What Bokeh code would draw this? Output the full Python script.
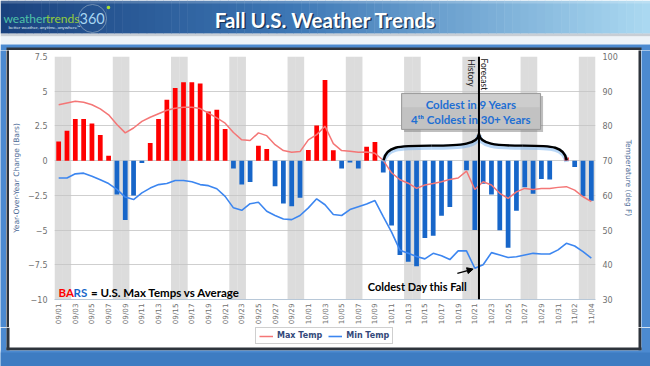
import numpy as np
import pandas as pd
from bokeh.plotting import figure
from bokeh.models import (Range1d, LinearAxis, FixedTicker, Span, Arrow, NormalHead,
                          Legend, LegendItem, ColumnDataSource)
from bokeh.layouts import column, row
from bokeh.core.properties import value
from bokeh.embed import file_html
from bokeh.resources import INLINE

# ---------------- data ----------------
day_index = pd.date_range("2018-09-01", "2018-11-04", freq="D")
dates = [d.strftime("%m/%d") for d in day_index]

yoy_change = [1.38, 2.15, 3.00, 3.00, 2.68, 1.84, 0.36, -2.44, -4.28, -2.51,
              -0.17, 1.27, 3.00, 4.38, 5.24, 5.64, 5.64, 5.55, 3.54, 3.66,
              2.27, -0.57, -1.72, -1.53, 1.07, 0.84, -1.84, -3.09, -3.28, -2.68,
              0.76, 2.53, 5.81, 0.74, -0.57, -0.13, -0.57, 1.00, 1.35, -0.86,
              -4.67, -6.80, -7.28, -7.60, -5.57, -5.40, -3.97, -3.33, 0.00, -0.70,
              -5.00, -1.67, -2.44, -5.02, -6.27, -3.60, -1.91, -2.39, -1.32, -1.36,
              0.00, 0.22, -0.46, -2.57, -2.88]

max_temp = [86.1, 86.6, 87.1, 86.8, 86.1, 84.9, 83.2, 80.4, 78.0, 79.4,
            81.3, 82.5, 83.5, 84.5, 85.1, 85.4, 85.4, 85.0, 83.7, 82.3,
            80.8, 78.1, 76.0, 75.8, 78.0, 77.2, 74.6, 72.9, 72.4, 72.6,
            76.0, 77.5, 79.9, 74.9, 72.9, 72.7, 72.4, 72.5, 72.1, 70.1,
            66.5, 64.5, 63.5, 62.0, 63.0, 63.4, 63.9, 64.6, 65.0, 67.0,
            61.7, 63.9, 63.0, 60.6, 59.1, 61.0, 62.0, 61.7, 62.0, 62.0,
            62.3, 62.5, 61.5, 59.6, 58.2]

min_temp = [65.0, 65.0, 66.2, 66.4, 65.5, 64.5, 63.4, 61.7, 59.5, 58.8,
            60.7, 62.1, 63.1, 63.4, 64.3, 64.3, 63.9, 63.1, 62.8, 61.9,
            59.7, 56.4, 55.7, 57.6, 58.0, 55.4, 54.2, 53.2, 53.0, 54.2,
            56.4, 59.0, 57.3, 54.5, 54.2, 55.9, 56.7, 57.5, 58.5, 53.9,
            49.4, 44.2, 43.3, 42.4, 41.7, 43.3, 42.6, 41.5, 44.0, 44.0,
            39.0, 40.0, 43.5, 42.8, 42.1, 42.3, 42.8, 43.3, 43.1, 43.1,
            44.3, 46.2, 45.4, 43.8, 41.9]

left_ticks = [-10, -7.5, -5, -2.5, 0, 2.5, 5, 7.5]
left_labels = ["\u221210", "\u22127.5", "\u22125", "\u22122.5", "0", "2.5", "5", "7.5"]
right_ticks = [30, 40, 50, 60, 70, 80, 90, 100]
x_ticks = list(range(0, len(dates), 2))
series_names = ["Max Temp", "Min Temp"]

RED = "#FF0000"
BLUE = "#1766C9"
MAX_COLOR = "#F47676"
MIN_COLOR = "#3C86F0"
FRAME_BLUE = "#4c8ad0"
FRAME_DARK = "#2e343c"
FONT = value("Lato")

def plain(fig):
    fig.grid.visible = False
    return fig

# ---------------- header ----------------
hdr = plain(figure(width=650, height=50, x_range=Range1d(0, 650), y_range=Range1d(50, 0),
                   x_axis_type=None, y_axis_type=None, min_border=0,
                   output_backend="svg", toolbar_location=None, outline_line_color=None,
                   background_fill_color="white", border_fill_color="white"))

stops = [(0.0, (26, 66, 126)), (0.45, (62, 120, 182)), (1.0, (172, 218, 242))]
def grad(t):
    for (t0, c0), (t1, c1) in zip(stops[:-1], stops[1:]):
        if t <= t1:
            f = (t - t0) / (t1 - t0)
            return "#%02x%02x%02x" % tuple(int(a + (b - a) * f) for a, b in zip(c0, c1))
    return "#%02x%02x%02x" % stops[-1][1]
n = 80
xs = np.linspace(0, 650, n + 1)
hdr.quad(left=xs[:-1], right=xs[1:] + 0.5, top=0, bottom=33,
         fill_color=[grad(((a + b) / 2) / 650) for a, b in zip(xs[:-1], xs[1:])], line_color=None)
hdr.quad(left=[0], right=[650], top=[0], bottom=[3], fill_color="white", fill_alpha=0.2, line_color=None)
hdr.quad(left=[0], right=[650], top=[33], bottom=[36], fill_color="#9aa6b2", fill_alpha=0.55, line_color=None)
hdr.quad(left=[0], right=[650], top=[36], bottom=[44], fill_color="#eef3f8", line_color=None)
hdr.quad(left=[0], right=[650], top=[44], bottom=[50], fill_color=FRAME_BLUE, line_color=None)
hdr.quad(left=[6], right=[641], top=[47], bottom=[50], fill_color=FRAME_DARK, line_color=None)

hdr.text(x=[325], y=[19], text=["Fall U.S. Weather Trends"], text_align="center",
         text_baseline="middle", text_font=FONT, text_font_style="bold",
         text_font_size="20.5px", text_color="#10243f", x_offset=1.5, y_offset=1.5, text_alpha=0.8)
hdr.text(x=[325], y=[19], text=["Fall U.S. Weather Trends"], text_align="center",
         text_baseline="middle", text_font=FONT, text_font_style="bold",
         text_font_size="20.5px", text_color="white")
hdr.circle(x=[92], y=[18], radius=14, fill_color=None, line_color="#8ea7bf", line_alpha=0.7, line_width=1)
hdr.circle(x=[108], y=[7], radius=1.8, fill_color="#a8e22e", line_color=None)
hdr.text(x=[3], y=[18], text=["weather"], text_align="left", text_baseline="middle",
         text_font=FONT, text_font_size="12px", text_color="#4fc3a8")
hdr.text(x=[45.5], y=[18], text=["trends"], text_align="left", text_baseline="middle",
         text_font=FONT, text_font_size="12px", text_color="#93cc3c")
hdr.text(x=[79], y=[17.5], text=["360"], text_align="left", text_baseline="middle",
         text_font=FONT, text_font_size="14.5px", text_color="#a8d6f2")
hdr.text(x=[8], y=[27], text=["better weather, anytime, anywhere\u2122"], text_align="left",
         text_baseline="middle", text_font=FONT, text_font_size="4.5px", text_color="#dfe8f0")

# ---------------- main chart ----------------
MAIN_W, MAIN_H = 629, 277
p = figure(width=MAIN_W, height=MAIN_H,
           x_range=Range1d(-0.5, len(dates) - 0.5), y_range=Range1d(-10, 7.5),
           min_border_left=45, min_border_right=43, min_border_top=6, min_border_bottom=28,
           output_backend="svg", toolbar_location=None, outline_line_color=None,
           background_fill_color="white", border_fill_color="white")
p.extra_y_ranges = {"temp": Range1d(30, 100)}

# weekend shading
wk = [i for i, d in enumerate(day_index) if d.dayofweek >= 5]
p.vbar(x=wk, width=1.0, bottom=p.y_range.start, top=p.y_range.end,
       fill_color="#c4c4c4", fill_alpha=0.6, line_color=None)

src = ColumnDataSource(dict(x=list(range(len(dates))), v=yoy_change,
                            c=[RED if v >= 0 else BLUE for v in yoy_change]))
p.vbar(x="x", top="v", bottom=0, width=0.57, fill_color="c", line_color=None, source=src)

l_max = p.line(list(range(len(dates))), max_temp, y_range_name="temp",
               line_color=MAX_COLOR, line_width=1.5)
l_min = p.line(list(range(len(dates))), min_temp, y_range_name="temp",
               line_color=MIN_COLOR, line_width=1.6)

# axes
ax = p.yaxis[0]
ax.ticker = FixedTicker(ticks=left_ticks)
ax.major_label_overrides = {t: s for t, s in zip(left_ticks, left_labels)}
ax.axis_label = "Year-Over-Year Change (Bars)"
ra = LinearAxis(y_range_name="temp", ticker=FixedTicker(ticks=right_ticks),
                axis_label="Temperature (deg F)")
p.add_layout(ra, "right")
for a, st, lst in ((ax, 7, 4), (ra, 7, 3)):
    a.axis_line_color = None
    a.major_tick_line_color = None
    a.minor_tick_line_color = None
    a.major_tick_out = 0
    a.major_tick_in = 0
    a.major_label_standoff = st
    a.major_label_text_font = "DejaVu Sans"
    a.major_label_text_font_size = "8px"
    a.major_label_text_color = "#707070"
    a.axis_label_text_font = "DejaVu Sans"
    a.axis_label_text_font_size = "7.5px"
    a.axis_label_text_font_style = "normal"
    a.axis_label_text_color = "#4d6a96"
    a.axis_label_standoff = lst

bx = p.xaxis[0]
bx.ticker = FixedTicker(ticks=x_ticks)
bx.major_label_overrides = {i: dates[i] for i in x_ticks}
bx.major_label_orientation = np.pi / 2
bx.major_label_text_font = "DejaVu Sans"
bx.major_label_text_font_size = "7.2px"
bx.major_label_text_color = "#707070"
bx.axis_line_color = "#B8C8D8"
bx.major_tick_line_color = None
bx.minor_tick_line_color = None
bx.major_tick_out = 0
bx.major_tick_in = 0
bx.major_label_standoff = 4

p.ygrid[0].ticker = FixedTicker(ticks=left_ticks)
p.ygrid[0].grid_line_color = "#CFCFCF"
p.xgrid[0].visible = False

# history / forecast divider
hist_x = dates.index("10/21") + 0.5
p.add_layout(Span(location=hist_x, dimension="height", line_color="black", line_width=2))
p.text(x=[hist_x - 0.96], y=[7.3], text=["History"], angle=-np.pi / 2, text_align="left",
       text_baseline="middle", text_font=FONT, text_font_size="8.5px", text_color="#222222")
p.text(x=[hist_x + 0.66], y=[7.35], text=["Forecast"], angle=-np.pi / 2, text_align="left",
       text_baseline="middle", text_font=FONT, text_font_size="8.5px", text_color="#222222")

# brace over the cold stretch
x0 = dates.index("10/10") + 0.04
x1 = dates.index("11/01") + 0.04
xa = hist_x
yb, yf, ya = 0.03, 1.08, 1.95
xq, xq2 = (x0 + xa) / 2, (xa + x1) / 2
bz = dict(
    x0=[x0, xq, xa, xq2], y0=[yb, yf, ya, yf],
    x1=[xq, xa, xq2, x1], y1=[yf, ya, yf, yb],
    cx0=[x0 + 0.3, xa - 2.0, xa + 0.1, x1 - 1.6], cy0=[yf - 0.05, yf, yf + 0.1, yf],
    cx1=[x0 + 1.6, xa - 0.1, xa + 2.0, x1 - 0.3], cy1=[yf, yf + 0.1, yf, yf - 0.05])
glow = {k: ([v - 0.12 for v in vals] if k.startswith(("y", "cy")) else vals) for k, vals in bz.items()}
p.bezier(**glow, line_color="#7fb6ee", line_width=5, line_alpha=0.55)
p.bezier(**bz, line_color="black", line_width=2.4)

# callout box
bl, br, bt, bbm = hist_x - 9.3, hist_x + 7.4, 4.84, 2.25
p.quad(left=[bl + 0.3], right=[br + 0.3], top=[bt - 0.18], bottom=[bbm - 0.18],
       fill_color="#707070", fill_alpha=0.45, line_color=None)
p.quad(left=[bl], right=[br], top=[bt], bottom=[bbm], fill_color="#C2C2C2",
       line_color="#9a9a9a", line_width=1)
p.quad(left=[bl + 0.1], right=[br - 0.1], top=[bt - 0.05], bottom=[(bt + bbm) / 2 + 0.3],
       fill_color="white", fill_alpha=0.18, line_color=None)
bc = (bl + br) / 2
p.text(x=[bc, bc], y=[4.05, 2.97], text=["Coldest in 9 Years", "4\u1d57\u02b0 Coldest in 30+ Years"],
       text_align="center", text_baseline="middle", text_font=FONT, text_font_style="bold",
       text_font_size="11.5px", text_color="#1F6FD3")

# coldest day marker
ci = int(np.argmin(min_temp))
y_cold = (min_temp[ci] - 70) / 4.0
p.add_layout(Arrow(end=NormalHead(size=6, fill_color="black", line_color="black"),
                   x_start=ci - 2.1, y_start=y_cold - 0.37, x_end=ci - 0.2, y_end=y_cold - 0.06,
                   line_color="black", line_width=1.2))
p.text(x=[ci - 6.9], y=[-9.05], text=["Coldest Day this Fall"], text_align="center",
       text_baseline="middle", text_font=FONT, text_font_style="bold",
       text_font_size="11px", text_color="black")

# BARS note
p.text(x=[-0.02, -0.02, -0.02], y=[-9.48] * 3,
       text=["BA", "RS", "= U.S. Max Temps vs Average"], x_offset=[0, 15, 32.5],
       text_align="left", text_baseline="middle", text_font=FONT, text_font_style="bold",
       text_font_size="11.5px", text_color=[RED, BLUE, "black"])

# side bands of the panel frame
def band(w, h, color):
    return plain(figure(width=w, height=h, x_axis_type=None, y_axis_type=None, min_border=0,
                        output_backend="svg", toolbar_location=None, outline_line_color=None,
                        background_fill_color=color, border_fill_color=color))

left_side = row(band(6, MAIN_H, FRAME_BLUE), band(3, MAIN_H, FRAME_DARK))
right_side = row(band(3, MAIN_H, FRAME_DARK), band(9, MAIN_H, FRAME_BLUE))

# footer: legend area + bottom of frame
FT = 50 + MAIN_H
ftr = plain(figure(width=650, height=366 - FT, x_range=Range1d(0, 650), y_range=Range1d(366, FT),
                   x_axis_type=None, y_axis_type=None, min_border=0,
                   output_backend="svg", toolbar_location=None, outline_line_color=None,
                   background_fill_color="white", border_fill_color="white"))
ftr.quad(left=[0, 6, 638, 641], right=[6, 9, 641, 650], top=[FT] * 4, bottom=[366, 350, 350, 366],
         fill_color=[FRAME_BLUE, FRAME_DARK, FRAME_DARK, FRAME_BLUE], line_color=None)
ftr.quad(left=[6], right=[641], top=[347], bottom=[350], fill_color=FRAME_DARK, line_color=None)
ftr.quad(left=[0], right=[650], top=[350], bottom=[366], fill_color=FRAME_BLUE, line_color=None)
ftr.quad(left=[0], right=[650], top=[352], bottom=[366], fill_color="#3e7cc2", line_color=None)
# legend keys styled like the chart's two lines (no data drawn here)
key_max = ftr.line([np.nan, np.nan], [np.nan, np.nan], line_color=MAX_COLOR, line_width=1.5)
key_min = ftr.line([np.nan, np.nan], [np.nan, np.nan], line_color=MIN_COLOR, line_width=1.6)
legend = Legend(items=[LegendItem(label=series_names[0], renderers=[key_max]),
                       LegendItem(label=series_names[1], renderers=[key_min])],
                orientation="horizontal", location=(255, 22),
                glyph_width=14, glyph_height=8, label_standoff=4, spacing=6, padding=3,
                margin=0, label_text_font="DejaVu Sans", label_text_font_size="8px",
                label_text_font_style="bold", label_text_color="#34497a",
                label_height=8, border_line_color="#a0a0a0", border_line_width=1,
                background_fill_color="white")
ftr.add_layout(legend)

layout = column(hdr, row(left_side, p, right_side), ftr)

open("out.html", "w").write(file_html(layout, INLINE))
